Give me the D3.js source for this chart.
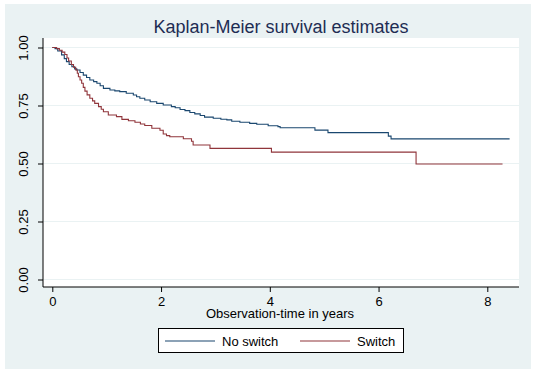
<!DOCTYPE html>
<html>
<head>
<meta charset="utf-8">
<script src="https://cdn.jsdelivr.net/npm/d3@7"></script>
<style>
  body { margin: 0; background: #ffffff; }
  #graf { width: 537px; height: 374px; }
  text { font-family: "Liberation Sans", Arial, sans-serif; }
</style>
</head>
<body>
<div id="graf"></div>
<script>
// I. Datos
grupos = ['No switch', 'Switch']
colores = ['#1a476f', '#90353b']

// No switch: tiempo (años) y supervivencia
tiempoNo = [0, 0.05, 0.10, 0.17, 0.22, 0.26, 0.31, 0.36, 0.41, 0.45, 0.51, 0.57, 0.63, 0.69, 0.76,
            0.82, 0.88, 0.94, 1.06, 1.15, 1.24, 1.36, 1.49, 1.55, 1.61, 1.70, 1.80, 1.92, 2.04,
            2.19, 2.26, 2.35, 2.44, 2.53, 2.62, 2.72, 2.80, 2.96, 3.10, 3.21, 3.30, 3.45, 3.63,
            3.76, 3.97, 4.15, 4.19, 4.83, 5.07, 6.18, 6.23, 8.41]
survNo   = [1.000, 0.995, 0.985, 0.968, 0.952, 0.939, 0.927, 0.917, 0.908, 0.903, 0.892, 0.881, 0.871, 0.860, 0.853,
            0.846, 0.835, 0.824, 0.817, 0.813, 0.810, 0.803, 0.795, 0.788, 0.781, 0.774, 0.766, 0.759, 0.752,
            0.745, 0.740, 0.733, 0.728, 0.720, 0.714, 0.707, 0.700, 0.695, 0.691, 0.688, 0.682, 0.678, 0.673,
            0.669, 0.663, 0.659, 0.654, 0.644, 0.633, 0.618, 0.606, 0.606]

// Switch
tiempoSi = [0, 0.08, 0.13, 0.18, 0.23, 0.27, 0.30, 0.35, 0.39, 0.43, 0.46, 0.48, 0.51, 0.54, 0.57, 0.60,
            0.64, 0.69, 0.74, 0.78, 0.85, 0.90, 0.94, 1.03, 1.18, 1.28, 1.40, 1.52, 1.62, 1.70, 1.83,
            1.98, 2.04, 2.10, 2.16, 2.41, 2.56, 2.59, 2.90, 4.03, 6.69, 8.28]
survSi   = [1.000, 0.995, 0.988, 0.980, 0.970, 0.955, 0.942, 0.927, 0.915, 0.903, 0.889, 0.874, 0.860, 0.846, 0.828, 0.812,
            0.796, 0.781, 0.770, 0.759, 0.745, 0.734, 0.723, 0.709, 0.702, 0.690, 0.684, 0.678, 0.670, 0.664, 0.652,
            0.643, 0.627, 0.620, 0.615, 0.607, 0.596, 0.580, 0.565, 0.549, 0.498, 0.498]

ticksX = [0, 2, 4, 6, 8]
ticksY = [0, 0.25, 0.5, 0.75, 1]

// II. Configuración
ancho_total = 537
alto_total = 374

svg = d3.select('#graf').append('svg')
        .attr('width', ancho_total)
        .attr('height', alto_total)

// fondo gris-azulado estilo Stata
svg.append('rect')
   .attr('x', 5).attr('y', 4)
   .attr('width', 526).attr('height', 365)
   .attr('fill', '#eaf2f3')

// región del gráfico
region = { left: 43, right: 519, top: 38, bottom: 287 }

svg.append('rect')
   .attr('x', region.left).attr('y', region.top)
   .attr('width', region.right - region.left)
   .attr('height', region.bottom - region.top)
   .attr('fill', '#ffffff')

x = d3.scaleLinear()
      .domain([0, 8])
      .range([52.3, 487.3])

y = d3.scaleLinear()
      .domain([0, 1])
      .range([279.5, 47.5])

// rejilla
svg.append('g')
   .selectAll('line')
   .data(ticksY)
   .enter()
   .append('line')
     .attr('x1', region.left)
     .attr('x2', region.right)
     .attr('y1', d => y(d))
     .attr('y2', d => y(d))
     .attr('stroke', '#eaf2f3')
     .attr('stroke-width', 1)

// III. Ejes
yAxisGroup = svg.append('g')
                .attr('transform', `translate(${ region.left }, 0)`)
                .call(d3.axisLeft(y).tickValues(ticksY).tickFormat(d3.format('.2f')).tickSize(5).tickSizeOuter(0))
yAxisGroup.select('.domain')
          .attr('d', `M0,${ region.top }V${ region.bottom }`)
          .attr('stroke', '#000')
yAxisGroup.selectAll('.tick text')
          .attr('transform', 'rotate(-90)')
          .attr('x', 0)
          .attr('y', -15)
          .attr('dy', 0)
          .attr('text-anchor', 'middle')
          .style('font-size', '13px')
          .attr('fill', '#000')

xAxisGroup = svg.append('g')
                .attr('transform', `translate(0, ${ region.bottom })`)
                .call(d3.axisBottom(x).tickValues(ticksX).tickFormat(d3.format('d')).tickSize(5).tickSizeOuter(0))
xAxisGroup.select('.domain')
          .attr('d', `M${ region.left },0H${ region.right }`)
          .attr('stroke', '#000')
xAxisGroup.selectAll('.tick text')
          .attr('y', 19)
          .attr('dy', 0)
          .style('font-size', '13px')
          .attr('fill', '#000')

// títulos
svg.append('text')
   .attr('x', 281)
   .attr('y', 33)
   .attr('text-anchor', 'middle')
   .style('font-size', '18px')
   .attr('fill', '#1e2d53')
   .text('Kaplan-Meier survival estimates')

svg.append('text')
   .attr('x', 280)
   .attr('y', 318)
   .attr('text-anchor', 'middle')
   .style('font-size', '13px')
   .attr('fill', '#000')
   .text('Observation-time in years')

// IV. Curvas de supervivencia
linea = d3.line()
          .x(d => x(d[0]))
          .y(d => y(d[1]))
          .curve(d3.curveStepAfter)

series = [
  d3.zip(tiempoNo, survNo),
  d3.zip(tiempoSi, survSi)
]

svg.append('g')
   .selectAll('path')
   .data(series)
   .enter()
   .append('path')
     .attr('d', d => linea(d))
     .attr('fill', 'none')
     .attr('stroke', (d, i) => colores[i])
     .attr('stroke-width', 1.1)

// V. Leyenda
leyenda = svg.append('g')
leyenda.append('rect')
       .attr('x', 158.5).attr('y', 328.5)
       .attr('width', 245).attr('height', 24)
       .attr('fill', '#fff')
       .attr('stroke', '#000')

posLeyenda = [165, 300]
grupos.forEach((g, i) => {
  leyenda.append('line')
         .attr('x1', posLeyenda[i]).attr('x2', posLeyenda[i] + 50)
         .attr('y1', 341).attr('y2', 341)
         .attr('stroke', colores[i])
         .attr('stroke-width', 1.1)
  leyenda.append('text')
         .attr('x', posLeyenda[i] + 57)
         .attr('y', 345.5)
         .style('font-size', '13px')
         .attr('fill', '#000')
         .text(g)
})
</script>
</body>
</html>
